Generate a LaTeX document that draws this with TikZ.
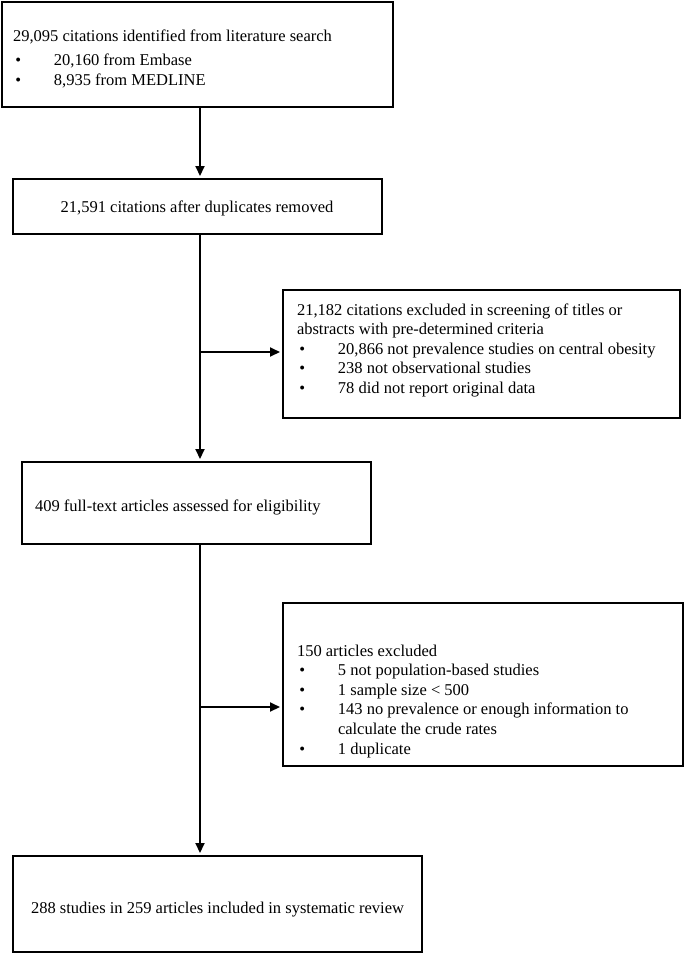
\documentclass[tikz,border=0pt]{standalone}
\usepackage{fontspec}
\setmainfont{Liberation Serif}
\usetikzlibrary{arrows.meta}
\tikzset{
  boxn/.style={draw, line width=2pt, inner sep=0pt, outer sep=0pt, anchor=north west},
  txt/.style={inner sep=0pt, outer sep=0pt, font=\fontsize{16.5}{19.6}\selectfont},
  conn/.style={line width=2pt},
  arr/.style={line width=2pt, -{Triangle[length=10pt,width=9pt]}, shorten >=3pt},
}
\newcommand{\bul}{\hspace*{2.4pt}\makebox[38.6pt][l]{•}}
\newcommand{\cont}{\hspace*{41pt}}
\begin{document}
\begin{tikzpicture}[x=1pt,y=-1pt]
\useasboundingbox (0,0) rectangle (685,954);
% boxes
\node[boxn, minimum width=391pt, minimum height=105pt] (b1) at (2,2) {};
\node[boxn, minimum width=369pt, minimum height=55pt] (b2) at (13,179) {};
\node[boxn, minimum width=397pt, minimum height=128pt] (b3) at (283,290) {};
\node[boxn, minimum width=349pt, minimum height=82pt] (b4) at (22,462) {};
\node[boxn, minimum width=400pt, minimum height=163pt] (b5) at (283,603) {};
\node[boxn, minimum width=409pt, minimum height=96pt] (b6) at (13,856) {};
% texts
\node[txt, anchor=base west] (t1) at (13,41) {\parbox[t]{375pt}{\raggedright
29,095 citations identified from literature search\\[5pt]
\bul 20,160 from Embase\\
\bul 8,935 from MEDLINE}};
\node[txt, anchor=base] (t2) at (197,212) {21,591 citations after duplicates removed};
\node[txt, anchor=base west] (t3) at (297,315) {\parbox[t]{380pt}{\raggedright
21,182 citations excluded in screening of titles or\\
abstracts with pre-determined criteria\\
\bul 20,866 not prevalence studies on central obesity\\
\bul 238 not observational studies\\
\bul 78 did not report original data}};
\node[txt, anchor=base west] (t4) at (35,511) {409 full-text articles assessed for eligibility};
\node[txt, anchor=base west] (t5) at (297,656) {\parbox[t]{380pt}{\raggedright
150 articles excluded\\
\bul 5 not population-based studies\\
\bul 1 sample size < 500\\
\bul 143 no prevalence or enough information to\\
\cont calculate the crude rates\\
\bul 1 duplicate}};
\node[txt, anchor=base west] (t6) at (31,913) {288 studies in 259 articles included in systematic review};
% connectors
\coordinate (xa) at (200,0);
\coordinate (j1) at (200,352);
\coordinate (j2) at (200,707);
\draw[arr] (b1.south -| xa) -- (b2.north -| xa);
\draw[arr] (b2.south -| xa) -- (b4.north -| xa);
\draw[arr] (j1) -- (b3.west |- j1);
\draw[arr] (b4.south -| xa) -- (b6.north -| xa);
\draw[arr] (j2) -- (b5.west |- j2);
\end{tikzpicture}
\end{document}
